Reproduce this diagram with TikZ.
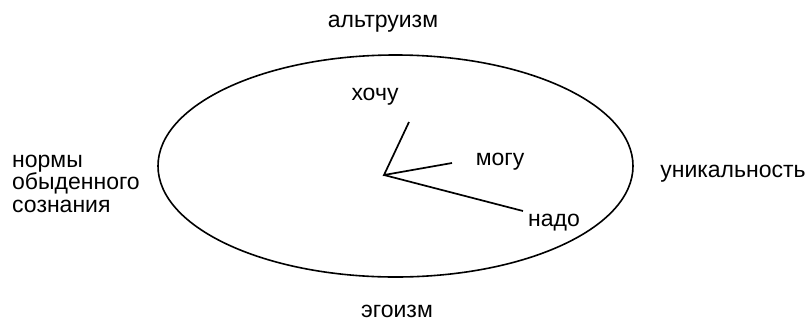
\documentclass[tikz,border=0pt]{standalone}
\usepackage{fontspec}
\setmainfont{Liberation Sans}
\usetikzlibrary{shapes.geometric}
\begin{document}
\begin{tikzpicture}[x=1pt,y=-1pt,
    lbl/.style={inner sep=0pt, anchor=base, font=\fontsize{23}{22.5}\selectfont},
    hand/.style={line width=1.7pt},
    dial/.style={draw, ellipse, line width=1.6pt, inner sep=0pt,
                 minimum width=475pt, minimum height=222pt}]
  \useasboundingbox (0,0) rectangle (810,322);

  % dial
  \node[dial] (clock) at (395.5,166) {};

  % hands
  \coordinate (pivot) at (384,175);
  \coordinate (wantend) at (409,122);
  \coordinate (canend) at (452,163);
  \coordinate (mustend) at (523,211);
  \draw[hand] (wantend) -- (pivot) -- (canend);
  \draw[hand] (pivot) -- (mustend);

  % hand labels
  \node[lbl] (want) at (375,100) {хочу};
  \node[lbl] (can) at (500,165) {могу};
  \node[lbl] (must) at (554,226) {надо};

  % poles
  \node[lbl] (altr) at (383,27) {альтруизм};
  \node[lbl] (ego) at (397,317) {эгоизм};
  \node[lbl] (uniq) at (733,177) {уникальность};
  % multi-line node: base anchor sits on the last line
  \node[lbl, anchor=base west, align=left] (norms) at (12,212)
    {нормы\\обыденного\\сознания};
\end{tikzpicture}
\end{document}
